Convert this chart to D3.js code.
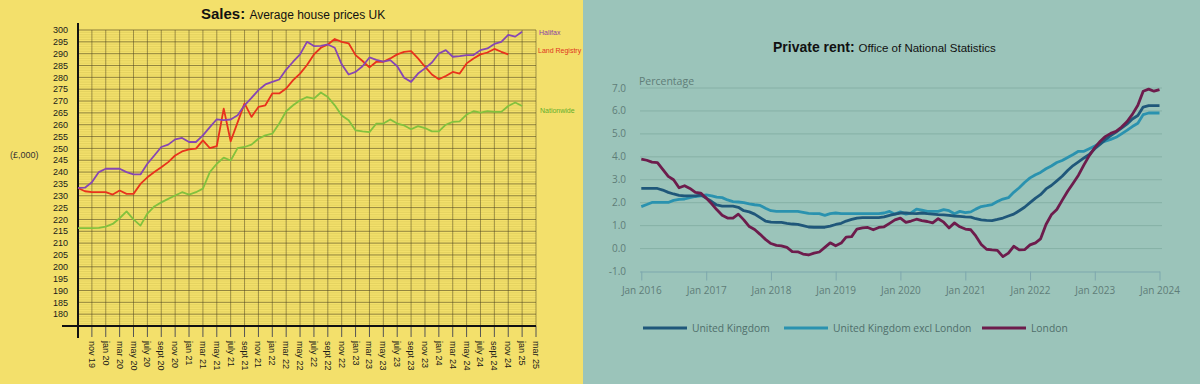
<!DOCTYPE html>
<html>
<head>
<meta charset="utf-8">
<title>Sales and private rent</title>
<script src="https://cdn.jsdelivr.net/npm/d3@7"></script>
<style>
  body { margin: 0; background: #9bc4ba; }
  svg { display: block; }
</style>
</head>
<body>
<div id="chart"></div>
<script>
// ---- left chart: average house prices (monthly, index 0 = sept 2019)
const halifax = [233.3,233.4,235.7,240,241.4,241.5,241.4,240,239,239,
  243.5,247,250.6,251.6,253.8,254.4,252.7,252.7,255.5,259,
  262.3,261.9,262.2,264,268.2,271.3,274.6,277,278.1,279.1,
  283.3,286.6,289.7,295,293.2,293.3,293.9,292.5,285.5,281.2,
  282.3,284.7,288.4,287.4,286.6,287.3,284.7,279.8,278.1,281.6,
  283.8,286.3,290.1,291.5,288.7,289,289.4,289.4,291.5,292.2,
  294.1,295,297.9,297.2,299.3];
const landRegistry = [233.3,231.9,231.5,231.5,231.5,230.5,232.2,230.8,230.8,235,
  237.8,240,242,244.2,247,248.7,249.6,249.9,253.4,250.1,
  251,266.8,253,261,269,263.3,267.5,268.2,273.2,273.2,
  275.3,278.8,281.6,285.2,289.7,292.5,293.9,296.2,295,294.4,
  289.4,286.9,284.2,286.6,286.6,288,289.7,290.8,291.1,288,
  284.5,281.2,279.2,280.6,282.3,281.6,285.9,288,289.7,290.5,
  292,290.8,289.7];
const nationwide = [216.3,216.3,216.3,216.4,217,218.1,220.5,223.4,220,217.4,
  222.5,225.5,227.2,228.7,230.1,231.5,230.5,231.5,233,240,
  243.5,246.1,244.9,250.1,250.6,251.6,254.1,255.5,256.2,260.5,
  265.7,268.2,270.3,271.7,271,273.6,271.7,268.2,263.9,261.9,
  257.6,257.2,256.9,260.5,260.5,262.2,260.5,259.7,258.1,259.4,
  258.6,257.2,257.2,260,261.2,261.4,264.3,265.7,265.1,265.7,
  265.4,265.4,267.9,269.4,267.9];
const salesTicks = ["nov 19","jan 20","mar 20","may 20","july 20","sept 20","nov 20",
  "jan 21","mar 21","may 21","july 21","sept 21","nov 21",
  "jan 22","mar 22","may 22","july 22","sept 22","nov 22",
  "jan 23","mar 23","may 23","july 23","sept 23","nov 23",
  "jan 24","mar 24","may 24","july 24","sept 24","nov 24",
  "jan 25","mar 25"];
const priceTicks = [180,185,190,195,200,205,210,215,220,225,230,235,240,245,250,
  255,260,265,270,275,280,285,290,295,300];

// ---- right chart: private rent % change (monthly from jan 2016)
const rentUK = [2.62,2.62,2.62,2.62,2.55,2.45,2.38,2.32,2.3,2.3,
  2.3,2.33,2.2,2.05,1.9,1.85,1.85,1.85,1.8,1.65,
  1.6,1.5,1.35,1.2,1.15,1.14,1.14,1.1,1.07,1.05,
  1.0,0.94,0.93,0.93,0.93,0.98,1.05,1.1,1.2,1.27,
  1.33,1.35,1.35,1.35,1.35,1.38,1.45,1.5,1.55,1.55,
  1.53,1.52,1.55,1.52,1.5,1.48,1.47,1.45,1.42,1.4,
  1.38,1.37,1.3,1.25,1.23,1.22,1.27,1.33,1.42,1.5,
  1.65,1.8,2.0,2.2,2.35,2.6,2.75,2.95,3.15,3.4,
  3.62,3.78,3.95,4.1,4.35,4.55,4.75,4.92,5.08,5.25,
  5.42,5.65,5.8,6.17,6.23,6.23,6.23];
const rentExLondon = [1.83,1.92,2.01,2.01,2.01,2.01,2.1,2.14,2.16,2.22,
  2.27,2.3,2.34,2.3,2.24,2.22,2.12,2.05,2.03,2.0,
  1.95,1.91,1.88,1.76,1.65,1.62,1.62,1.62,1.62,1.62,
  1.58,1.53,1.52,1.52,1.45,1.52,1.55,1.52,1.52,1.52,
  1.52,1.52,1.52,1.52,1.52,1.55,1.62,1.5,1.6,1.5,
  1.55,1.72,1.68,1.62,1.62,1.62,1.7,1.65,1.52,1.62,
  1.57,1.6,1.72,1.83,1.87,1.92,2.05,2.16,2.22,2.45,
  2.65,2.88,3.08,3.22,3.32,3.48,3.6,3.75,3.84,3.97,
  4.1,4.24,4.24,4.35,4.47,4.6,4.68,4.76,4.85,5.0,
  5.15,5.32,5.46,5.84,5.91,5.91,5.91];
const rentLondon = [3.9,3.85,3.77,3.75,3.45,3.15,3.0,2.65,2.74,2.62,
  2.45,2.42,2.2,1.95,1.7,1.45,1.33,1.33,1.5,1.25,
  0.96,0.83,0.62,0.4,0.22,0.14,0.12,0.05,-0.13,-0.14,
  -0.24,-0.28,-0.2,-0.15,0.05,0.25,0.12,0.24,0.5,0.52,
  0.85,0.9,0.92,0.82,0.92,0.95,1.1,1.25,1.33,1.14,
  1.2,1.28,1.22,1.18,1.12,1.3,1.15,0.9,1.12,0.95,
  0.85,0.82,0.55,0.18,-0.03,-0.06,-0.08,-0.35,-0.2,0.1,
  -0.06,-0.05,0.16,0.25,0.42,1.05,1.47,1.7,2.1,2.5,
  2.85,3.2,3.65,4.05,4.4,4.68,4.88,5.02,5.11,5.3,
  5.53,5.85,6.25,6.86,6.95,6.86,6.93];
const rentTicks = [-1, 0, 1, 2, 3, 4, 5, 6, 7];
const rentYears = [2016,2017,2018,2019,2020,2021,2022,2023,2024];

const W = 1200, H = 384;
const svg = d3.select("#chart").append("svg").attr("width", W).attr("height", H);

// ================= LEFT =================
const left = svg.append("g");
left.append("rect").attr("width", 583).attr("height", H).attr("fill", "#f3e06b");

const x1 = d3.scaleLinear().domain([0, 66]).range([78, 536]);
const y1 = d3.scaleLinear().domain([175, 300]).range([326, 30]);

// minor grid every 1 unit
left.append("g").selectAll("line").data(d3.range(175, 301, 1)).join("line")
  .attr("x1", x1(0)).attr("x2", x1(66))
  .attr("y1", d => y1(d)).attr("y2", d => y1(d))
  .attr("stroke", "#c9b64a").attr("stroke-opacity", 0.5).attr("stroke-width", 0.7);
// major grid every 5
left.append("g").selectAll("line").data(d3.range(175, 301, 5)).join("line")
  .attr("x1", x1(0)).attr("x2", x1(66))
  .attr("y1", d => y1(d)).attr("y2", d => y1(d))
  .attr("stroke", "#4d4322").attr("stroke-opacity", 0.55).attr("stroke-width", 1);
// vertical grid at every 2 months
left.append("g").selectAll("line").data(d3.range(0, 67, 2)).join("line")
  .attr("x1", d => x1(d)).attr("x2", d => x1(d))
  .attr("y1", y1(300)).attr("y2", y1(175))
  .attr("stroke", "#4d4322").attr("stroke-opacity", 0.5).attr("stroke-width", 1);

// y axis labels
left.append("g").selectAll("text").data(priceTicks).join("text")
  .attr("x", 68).attr("y", d => y1(d) + 3.2)
  .attr("text-anchor", "end")
  .attr("font-family", "Liberation Sans, Arial, sans-serif")
  .attr("font-size", 9).attr("fill", "#1a1a1a")
  .text(d => d);

// x ticks + rotated labels
const tickG = left.append("g");
salesTicks.forEach((lab, i) => {
  const xx = x1(2 + i * 2);
  tickG.append("line").attr("x1", xx).attr("x2", xx).attr("y1", 326).attr("y2", 337)
    .attr("stroke", "#555").attr("stroke-width", 1);
  tickG.append("text")
    .attr("transform", `translate(${xx - 3},341) rotate(90)`)
    .attr("font-family", "Liberation Sans, Arial, sans-serif")
    .attr("font-size", 9).attr("fill", "#1a1a1a")
    .text(lab);
});

// axes lines
left.append("line").attr("x1", 62).attr("x2", 536).attr("y1", 326).attr("y2", 326)
  .attr("stroke", "#111").attr("stroke-width", 2);
left.append("line").attr("x1", 78).attr("x2", 78).attr("y1", 23).attr("y2", 338)
  .attr("stroke", "#111").attr("stroke-width", 2);

// series
const line1 = d3.line().x((d, i) => x1(i)).y(d => y1(d));
[[nationwide, "#82c13d"], [landRegistry, "#e8321c"], [halifax, "#8646b4"]].forEach(([s, c]) => {
  left.append("path").datum(s).attr("d", line1)
    .attr("fill", "none").attr("stroke", c).attr("stroke-width", 1.8)
    .attr("stroke-linejoin", "round");
});

// series labels
const lab1 = [["Halifax", 539, 35, "#8a3fa6"], ["Land Registry", 538, 53, "#e0351e"], ["Nationwide", 540, 112.5, "#62ae2c"]];
lab1.forEach(([t, x, y, c]) => {
  left.append("text").attr("x", x).attr("y", y)
    .attr("font-family", "Liberation Sans, Arial, sans-serif")
    .attr("font-size", 7).attr("fill", c).text(t);
});

left.append("text").attr("x", 10).attr("y", 158)
  .attr("font-family", "Liberation Sans, Arial, sans-serif")
  .attr("font-size", 9).attr("fill", "#333").text("(£,000)");

const t1 = left.append("text").attr("x", 201).attr("y", 19)
  .attr("font-family", "Liberation Sans, Arial, sans-serif").attr("fill", "#111");
t1.append("tspan").attr("font-weight", "bold").attr("font-size", 15).text("Sales: ");
t1.append("tspan").attr("font-size", 12).text("Average house prices UK");

// ================= RIGHT =================
const right = svg.append("g");
right.append("rect").attr("x", 583).attr("width", W - 583).attr("height", H).attr("fill", "#9bc4ba");

const x2 = d3.scaleTime().domain([new Date(2016, 0, 1), new Date(2024, 0, 1)]).range([641.3, 1159.5]);
const y2 = d3.scaleLinear().domain([-1, 7]).range([271.5, 88]);

right.append("g").selectAll("line").data(rentTicks.filter(d => d > -1)).join("line")
  .attr("x1", 640).attr("x2", 1162)
  .attr("y1", d => y2(d)).attr("y2", d => y2(d))
  .attr("stroke", "#86b0a6").attr("stroke-width", 1);

right.append("g").selectAll("text").data(rentTicks).join("text")
  .attr("x", 626).attr("y", d => y2(d) + 3.5)
  .attr("text-anchor", "end")
  .attr("font-family", "Open Sans, sans-serif")
  .attr("font-size", 10).attr("fill", "#5f7d78")
  .text(d => d.toFixed(1));

// x axis
const xAxis = right.append("g").attr("transform", `translate(0,${y2(-1)})`)
  .call(d3.axisBottom(x2).tickValues(rentYears.map(y => new Date(y, 0, 1)))
    .tickSize(9).tickFormat(d3.timeFormat("Jan %Y")));
xAxis.select(".domain").attr("stroke", "#7da7ad").attr("d", "M640,0.5H1160");
xAxis.selectAll(".tick line").attr("stroke", "#7da7ad");
xAxis.selectAll(".tick text").attr("dy", "1.05em")
  .attr("font-family", "Open Sans, sans-serif")
  .attr("font-size", 10).attr("fill", "#5f7d78");

right.append("text").attr("x", 639).attr("y", 85)
  .attr("font-family", "Open Sans, sans-serif")
  .attr("font-size", 10.5).attr("fill", "#5f7d78").text("Percentage");

const line2 = d3.line().x((d, i) => x2(new Date(2016, i, 1))).y(d => y2(d));
const rentSeries = [
  ["United Kingdom", rentUK, "#1f577a"],
  ["United Kingdom excl London", rentExLondon, "#2a92af"],
  ["London", rentLondon, "#6d1c4c"]
];
[rentSeries[1], rentSeries[0], rentSeries[2]].forEach(([n, s, c]) => {
  right.append("path").datum(s).attr("d", line2)
    .attr("fill", "none").attr("stroke", c).attr("stroke-width", 2.8)
    .attr("stroke-linejoin", "round");
});

// legend
const legX = [643, 784, 982];
rentSeries.forEach(([n, s, c], i) => {
  right.append("line").attr("x1", legX[i]).attr("x2", legX[i] + 44)
    .attr("y1", 328).attr("y2", 328).attr("stroke", c).attr("stroke-width", 3);
  right.append("text").attr("x", legX[i] + 49).attr("y", 331.5)
    .attr("font-family", "Open Sans, sans-serif")
    .attr("font-size", 10.3).attr("fill", "#4f6e6a").text(n);
});

const t2 = right.append("text").attr("x", 773).attr("y", 52)
  .attr("font-family", "Liberation Sans, Arial, sans-serif").attr("fill", "#111");
t2.append("tspan").attr("font-weight", "bold").attr("font-size", 14).text("Private rent: ");
t2.append("tspan").attr("font-size", 11.5).text("Office of National Statistics");
</script>
</body>
</html>
